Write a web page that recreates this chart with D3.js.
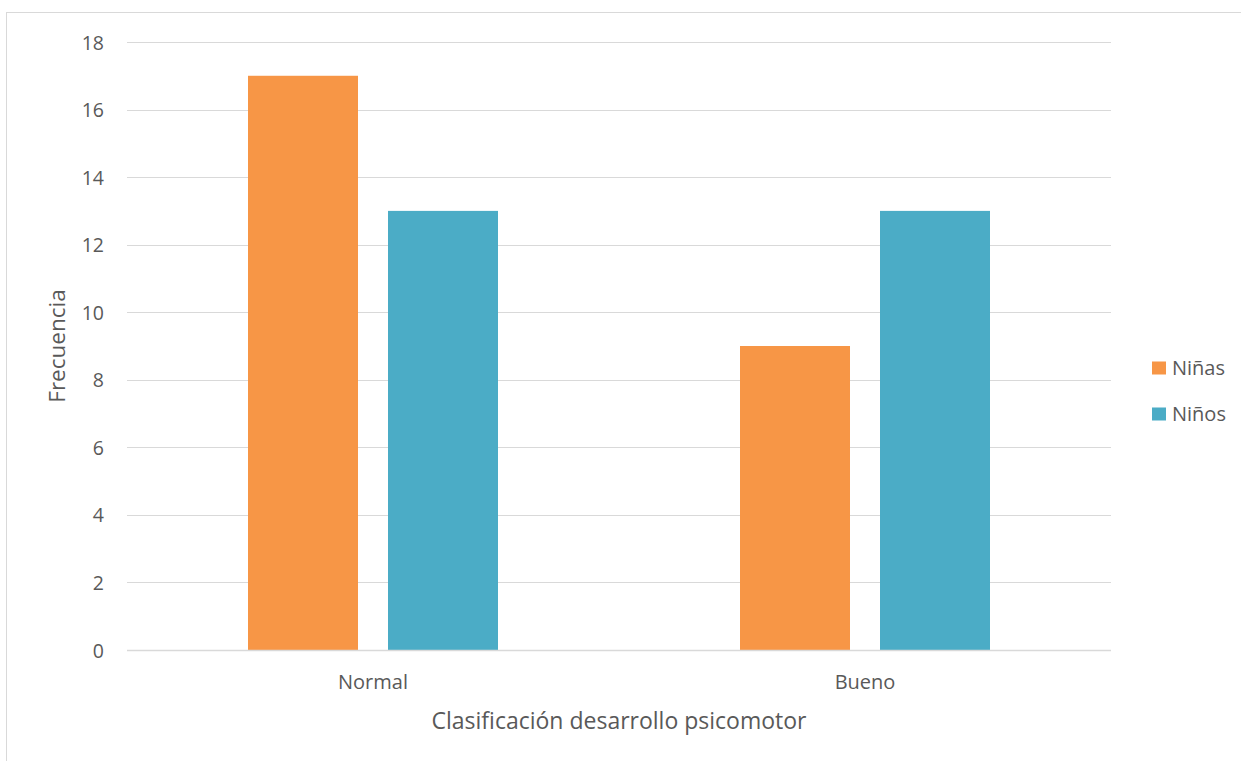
<!DOCTYPE html>
<html><head><meta charset="utf-8">
<script src="https://cdn.jsdelivr.net/npm/d3@7"></script>
<style>body{margin:0;background:#fff}svg text{font-family:"Open Sans",sans-serif;fill:#595959}</style>
</head><body><svg id="c" width="1241" height="761"></svg>
<script>
const categories = ["Normal", "Bueno"];
const seriesNames = ["Niñas", "Niños"];
const ninas = [17, 9];
const ninos = [13, 13];
const yTicks = [0, 2, 4, 6, 8, 10, 12, 14, 16, 18];
const colors = ["#F79646", "#4BACC6"];

const svg = d3.select("#c");
svg.append("rect").attr("x",6.5).attr("y",12.5).attr("width",1300).attr("height",800)
  .attr("fill","none").attr("stroke","#d9d9d9");

const L=127, R=1111, T=42, B=650;
const y = d3.scaleLinear().domain([0,18]).range([B,T]);
const x0 = d3.scaleBand().domain(categories).range([L,R]).paddingInner(0).paddingOuter(0);
const groupW = 250;
const x1 = d3.scaleBand().domain(seriesNames).range([0,groupW]).paddingInner(30/140).paddingOuter(0);

yTicks.forEach(t=>{
  svg.append("line").attr("x1",L).attr("x2",R).attr("y1",Math.round(y(t))+0.5).attr("y2",Math.round(y(t))+0.5)
    .attr("stroke","#d9d9d9").attr("stroke-width",1);
});
const yAxis = d3.axisLeft(y).tickValues(yTicks).tickSize(0).tickPadding(0);
const ga = svg.append("g").attr("transform",`translate(104,0)`).call(yAxis);
ga.select(".domain").remove();
ga.selectAll("text").style("font-size","19.5px").style("font-family","'Open Sans',sans-serif").attr("fill","#595959").attr("dy","0.36em");

const data = [ninas, ninos];
categories.forEach((c,i)=>{
  const gx = x0(c) + (x0.bandwidth()-groupW)/2;
  seriesNames.forEach((s,j)=>{
    const v = data[j][i];
    svg.append("rect").attr("x",gx + x1(s)).attr("width",x1.bandwidth())
      .attr("y",y(v)).attr("height",B-y(v)).attr("fill",colors[j]);
  });
  svg.append("text").attr("x",x0(c)+x0.bandwidth()/2).attr("y",689).attr("text-anchor","middle")
    .style("font-size","20px").text(c);
});
svg.append("line").attr("x1",L).attr("x2",R).attr("y1",B+0.5).attr("y2",B+0.5).attr("stroke","#d9d9d9").attr("stroke-width",1.5);

svg.append("text").attr("x",619).attr("y",729).attr("text-anchor","middle").style("font-size","23px")
  .text("Clasificación desarrollo psicomotor");
svg.append("text").attr("transform","translate(65,346) rotate(-90)").attr("text-anchor","middle")
  .style("font-size","22.5px").text("Frecuencia");

seriesNames.forEach((s,j)=>{
  const ly = 368 + j*46;
  svg.append("rect").attr("x",1152).attr("y",ly-6.5).attr("width",14).attr("height",13).attr("fill",colors[j]);
  svg.append("text").attr("x",1172).attr("y",ly).attr("dy","0.36em").style("font-size","20px").text(s);
});
</script></body></html>
